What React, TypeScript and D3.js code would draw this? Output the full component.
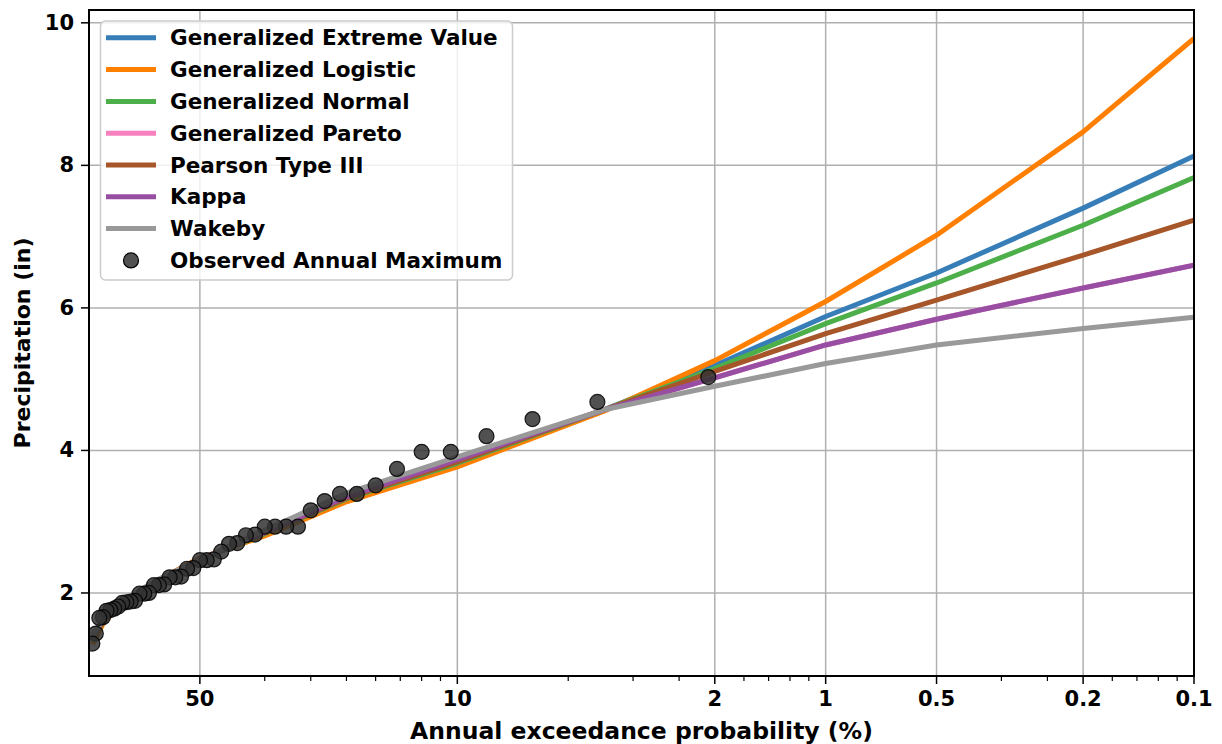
import React from "react";
import * as d3 from "d3";

const W = 1222;
const H = 744;

// Annual exceedance probabilities (%) used for the major ticks
const xTickProbs = [50, 10, 2, 1, 0.5, 0.2, 0.1];
const xTickLabels = ["50", "10", "2", "1", "0.5", "0.2", "0.1"];
// minor ticks (return periods, years)
const xMinorReturnPeriods = [3, 4, 5, 6, 7, 8, 9, 20, 30, 40, 60, 70, 80, 90, 300, 400, 600, 700, 800, 900];
const yTicks = [2, 4, 6, 8, 10];

// Return periods (years) at which the fitted curves are evaluated
const returnPeriods = [1.0213, 1.1, 1.25, 1.5, 2, 3, 5, 10, 25, 50, 100, 200, 500, 1000];

const gevValues = [1.32, 1.62, 1.88, 2.14, 2.47, 2.83, 3.32, 3.82, 4.57, 5.19, 5.88, 6.49, 7.40, 8.13];
const gloValues = [1.28, 1.60, 1.87, 2.15, 2.49, 2.80, 3.28, 3.77, 4.55, 5.26, 6.09, 7.02, 8.47, 9.78];
const gnoValues = [1.32, 1.62, 1.88, 2.14, 2.47, 2.83, 3.32, 3.82, 4.57, 5.15, 5.78, 6.35, 7.16, 7.83];
const gpaValues = [1.42, 1.63, 1.89, 2.15, 2.47, 2.85, 3.35, 3.87, 4.57, 5.02, 5.48, 5.84, 6.28, 6.60];
const pe3Values = [1.33, 1.62, 1.88, 2.14, 2.47, 2.84, 3.33, 3.84, 4.57, 5.11, 5.64, 6.11, 6.74, 7.23];
const kapValues = [1.42, 1.63, 1.89, 2.15, 2.47, 2.85, 3.35, 3.87, 4.57, 5.02, 5.48, 5.84, 6.28, 6.60];
const wakValues = [1.40, 1.64, 1.90, 2.16, 2.47, 2.88, 3.40, 3.91, 4.57, 4.90, 5.22, 5.48, 5.71, 5.87];

const seriesNames = [
  "Generalized Extreme Value",
  "Generalized Logistic",
  "Generalized Normal",
  "Generalized Pareto",
  "Pearson Type III",
  "Kappa",
  "Wakeby",
];
const seriesColors = ["#377eb8", "#ff7f00", "#4daf4a", "#f781bf", "#a65628", "#984ea3", "#999999"];
const seriesValues = [gevValues, gloValues, gnoValues, gpaValues, pe3Values, kapValues, wakValues];

// Observed annual maximum precipitation (in), sorted descending
const observedValues = [
  5.03, 4.68, 4.44, 4.20, 3.98, 3.98, 3.74, 3.51, 3.39, 3.39,
  3.29, 3.16, 2.93, 2.93, 2.93, 2.93, 2.82, 2.81, 2.70, 2.69,
  2.58, 2.47, 2.46, 2.46, 2.35, 2.34, 2.23, 2.22, 2.22, 2.12,
  2.11, 2.11, 2.00, 1.99, 1.99, 1.89, 1.88, 1.87, 1.86, 1.81,
  1.78, 1.76, 1.75, 1.66, 1.65, 1.43, 1.29,
];

const FONT = "'DejaVu Sans', sans-serif";

export default function App() {
  const left = 89, right = 1194, top = 10, bottom = 676;
  const x = d3.scaleLog().domain([1, 1000]).range([left, right]);
  const y = d3.scaleLinear().domain([0.835, 10.18]).range([bottom, top]);

  const n = observedValues.length;
  const observed = observedValues.map((v, i) => ({ T: (n + 1) / (i + 1), v }));

  const line = d3
    .line<[number, number]>()
    .x((d) => x(d[0]))
    .y((d) => y(d[1]));

  const legendRows = [...seriesNames, "Observed Annual Maximum"];

  return (
    <svg width={W} height={H} style={{ position: "absolute", left: 0, top: 0, background: "#fff" }} fontFamily={FONT}>
      <defs>
        <clipPath id="plot">
          <rect x={left} y={top} width={right - left} height={bottom - top} />
        </clipPath>
      </defs>
      {/* grid */}
      <g stroke="#b0b0b0" strokeWidth={1.5}>
        {xTickProbs.map((p) => (
          <line key={"gx" + p} x1={x(100 / p)} x2={x(100 / p)} y1={top} y2={bottom} />
        ))}
        {yTicks.map((t) => (
          <line key={"gy" + t} x1={left} x2={right} y1={y(t)} y2={y(t)} />
        ))}
      </g>
      {/* lines */}
      <g clipPath="url(#plot)" fill="none">
        {seriesValues.map((vals, i) => (
          <path
            key={seriesNames[i]}
            d={line(returnPeriods.map((T, j) => [T, vals[j]] as [number, number])) || ""}
            stroke={seriesColors[i]}
            strokeWidth={5}
            strokeLinejoin="round"
          />
        ))}
      </g>
      {/* observed points */}
      <g clipPath="url(#plot)">
        {observed.map((d, i) => (
          <circle
            key={i}
            cx={x(d.T)}
            cy={y(d.v)}
            r={7.5}
            fill="#333333"
            fillOpacity={0.85}
            stroke="#000"
            strokeOpacity={0.85}
            strokeWidth={1.2}
          />
        ))}
      </g>
      {/* spines */}
      <rect x={left} y={top} width={right - left} height={bottom - top} fill="none" stroke="#000" strokeWidth={2} />
      {/* x ticks */}
      <g stroke="#000" strokeWidth={1.5}>
        {xTickProbs.map((p) => (
          <line key={"tx" + p} x1={x(100 / p)} x2={x(100 / p)} y1={bottom} y2={bottom + 8} />
        ))}
        {xMinorReturnPeriods.map((T) => (
          <line key={"mx" + T} x1={x(T)} x2={x(T)} y1={bottom} y2={bottom + 5} strokeWidth={1.2} />
        ))}
        {yTicks.map((t) => (
          <line key={"ty" + t} x1={left - 8} x2={left} y1={y(t)} y2={y(t)} />
        ))}
      </g>
      <g fontWeight="bold" fontSize={21} fill="#000">
        {xTickProbs.map((p, i) => (
          <text key={"lx" + p} x={x(100 / p)} y={699} textAnchor="middle" dominantBaseline="central">
            {xTickLabels[i]}
          </text>
        ))}
        {yTicks.map((t) => (
          <text key={"ly" + t} x={left - 15} y={y(t)} textAnchor="end" dominantBaseline="central">
            {t}
          </text>
        ))}
      </g>
      <text x={(left + right) / 2} y={731} textAnchor="middle" dominantBaseline="central" fontWeight="bold" fontSize={23.5}>
        Annual exceedance probability (%)
      </text>
      <text
        transform={`translate(22,${(top + bottom) / 2}) rotate(-90)`}
        textAnchor="middle"
        dominantBaseline="central"
        fontWeight="bold"
        fontSize={22}
      >
        Precipitation (in)
      </text>
      {/* legend */}
      <g>
        <rect x={100.5} y={21} width={412} height={259} rx={5} fill="#fff" fillOpacity={0.8} stroke="#cccccc" strokeWidth={1.5} />
        {legendRows.map((name, i) => {
          const cy = 37.8 + i * 31.8;
          return (
            <g key={name}>
              {i < seriesNames.length ? (
                <line x1={106} x2={156} y1={cy} y2={cy} stroke={seriesColors[i]} strokeWidth={5} />
              ) : (
                <circle cx={131} cy={cy} r={7.5} fill="#333333" fillOpacity={0.85} stroke="#000" strokeWidth={1.2} />
              )}
              <text x={170} y={cy} dominantBaseline="central" fontWeight="bold" fontSize={21.5}>
                {name}
              </text>
            </g>
          );
        })}
      </g>
    </svg>
  );
}
